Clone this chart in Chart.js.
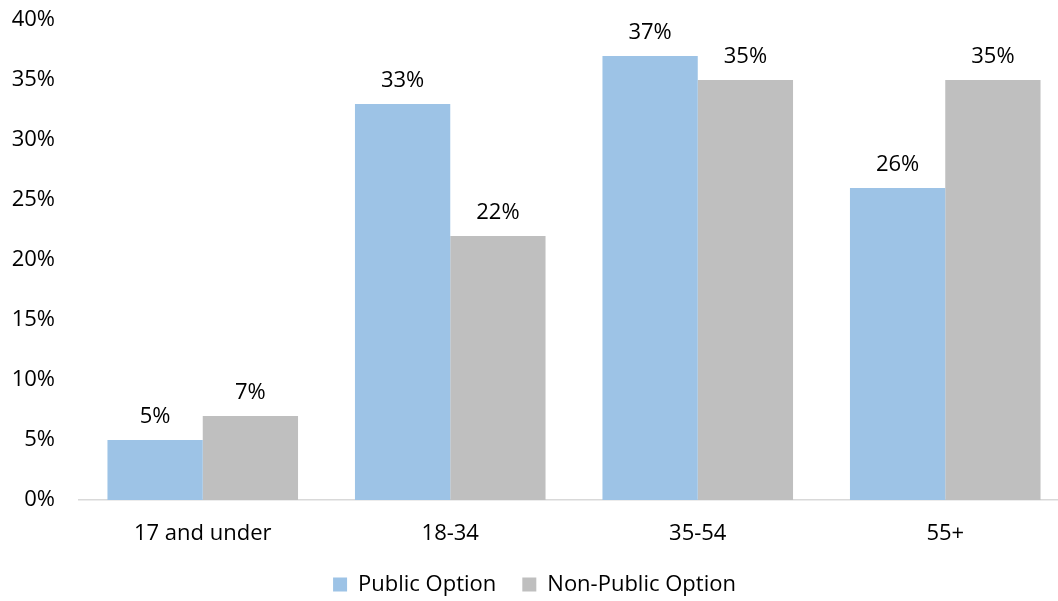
<!DOCTYPE html>
<html>
<head>
<meta charset="utf-8">
<script src="https://cdn.jsdelivr.net/npm/chart.js@4"></script>
<style>
  html, body { margin: 0; padding: 0; background: #fff; overflow: hidden; }
  #wrap { width: 1098px; height: 601px; }
</style>
</head>
<body>
<div id="wrap"><canvas id="myChart" width="1098" height="601"></canvas></div>
<script>
// data
var categories = ["17 and under", "18-34", "35-54", "55+"];
var publicOption = [5, 33, 37, 26];
var nonPublicOption = [7, 22, 35, 35];
var seriesNames = ["Public Option", "Non-Public Option"];

var fontFamily = "'Open Sans', 'Noto Sans', sans-serif";
var fontSize = 22;

// plugin to write the value above each bar
var valueLabels = {
  id: 'valueLabels',
  beforeLayout: function(chart){
    // keep legend box a fixed height so it sits where excel puts it
    var lg = chart.legend;
    if (lg && !lg._fixed){
      var fit = lg.fit;
      lg.fit = function(){ fit.call(this); this.height = 53.5; };
      lg._fixed = true;
    }
  },
  afterDatasetsDraw: function(chart){
    var ctx = chart.ctx;
    ctx.save();
    ctx.font = fontSize + "px " + fontFamily;
    ctx.fillStyle = "#000";
    ctx.textAlign = "center";
    ctx.textBaseline = "bottom";
    chart.data.datasets.forEach(function(ds, i){
      var meta = chart.getDatasetMeta(i);
      meta.data.forEach(function(bar, j){
        ctx.fillText(ds.data[j] + "%", bar.x, bar.y - 12);
      });
    });
    ctx.restore();
  }
};

var ctx = document.getElementById("myChart");
var myChart = new Chart(ctx, {
  type: 'bar',
  data: {
    labels: categories,
    datasets: [
      {
        label: seriesNames[0],
        data: publicOption,
        backgroundColor: "#9DC3E6",
        categoryPercentage: 0.77,
        barPercentage: 1.0
      },
      {
        label: seriesNames[1],
        data: nonPublicOption,
        backgroundColor: "#BFBFBF",
        categoryPercentage: 0.77,
        barPercentage: 1.0
      }
    ]
  },
  options: {
    responsive: false,
    animation: false,
    layout: { padding: { top: 0, right: 29, left: 0, bottom: 0 } },
    plugins: {
      legend: {
        position: 'bottom',
        labels: {
          font: { family: fontFamily, size: fontSize },
          color: "#000",
          boxWidth: 14,
          boxHeight: 14,
          padding: 26
        }
      },
      tooltip: { enabled: false }
    },
    scales: {
      x: {
        grid: { display: false, drawTicks: false },
        border: { color: "#D9D9D9", width: 1.5 },
        ticks: {
          font: { family: fontFamily, size: fontSize },
          color: "#000",
          padding: 21
        },
        afterFit: function(scale){ scale.height = 47.5; }
      },
      y: {
        min: 0,
        max: 40,
        grid: { display: false, drawTicks: false },
        border: { display: false },
        ticks: {
          stepSize: 5,
          font: { family: fontFamily, size: fontSize },
          color: "#000",
          padding: 24,
          callback: function(v){ return v + "%"; }
        },
        afterFit: function(scale){
          scale.width = 79;
          scale.paddingTop = 20;
          scale.paddingBottom = 0;
        }
      }
    }
  },
  plugins: [valueLabels]
});
</script>
</body>
</html>
